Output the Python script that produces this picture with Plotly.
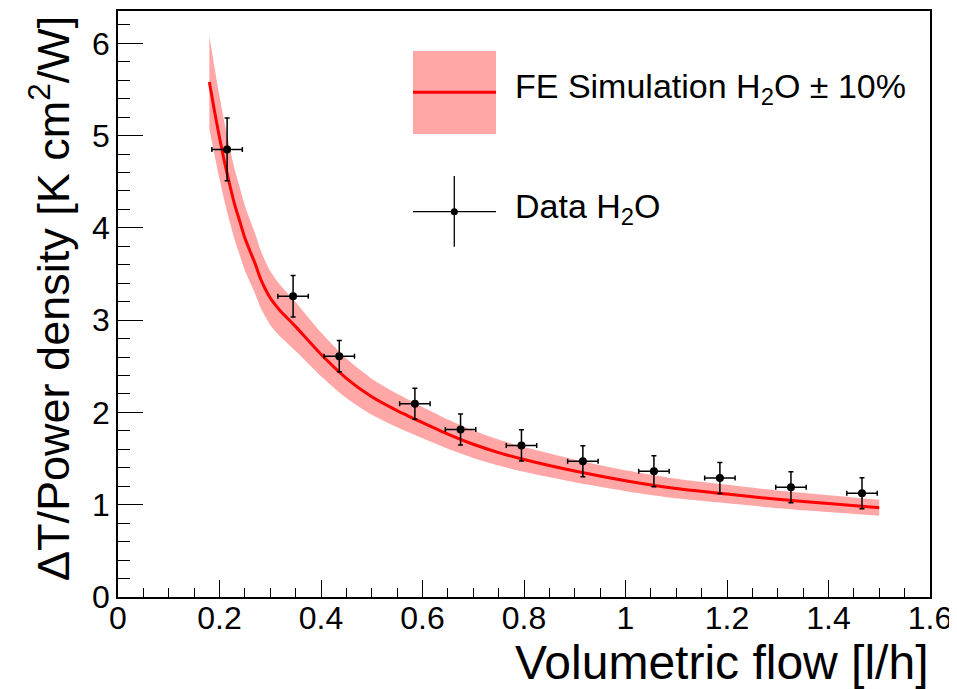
import plotly.graph_objects as go

# ---- data ----
sim_x = [0.18, 0.19, 0.20, 0.21, 0.22, 0.23, 0.24, 0.25, 0.26, 0.27, 0.28, 0.29, 0.30,
         0.31, 0.32, 0.35, 0.40, 0.45, 0.50, 0.55, 0.60, 0.65, 0.70, 0.75, 0.80, 0.90,
         1.00, 1.10, 1.20, 1.30, 1.40, 1.50]
sim_y = [5.58, 5.27, 4.98, 4.71, 4.47, 4.25, 4.07, 3.89, 3.75, 3.615, 3.46, 3.34, 3.24,
         3.165, 3.10, 2.93, 2.63, 2.37, 2.17, 2.02, 1.89, 1.765, 1.655, 1.565, 1.49, 1.365,
         1.26, 1.175, 1.115, 1.058, 1.012, 0.967]
band_frac = 0.09  # visible half-width of the simulation band (relative)

data_x = [0.215, 0.345, 0.436, 0.585, 0.675, 0.795, 0.916, 1.056, 1.186, 1.326, 1.466]
data_y = [4.85, 3.26, 2.61, 2.095, 1.816, 1.643, 1.47, 1.362, 1.289, 1.19, 1.123]
data_xerr = [0.03, 0.03, 0.03, 0.03, 0.03, 0.03, 0.03, 0.03, 0.03, 0.03, 0.03]
data_yerr = [0.34, 0.225, 0.17, 0.168, 0.168, 0.168, 0.168, 0.168, 0.168, 0.168, 0.168]

x_range = [0, 1.6]
y_range = [0, 6.35]

FONT = "Liberation Sans, Arial, Helvetica, sans-serif"
BAND = "#ffa6a6"
RED = "#ff0000"

band_hi = [v * (1 + band_frac) for v in sim_y]
band_lo = [v * (1 - band_frac) for v in sim_y]

fig = go.Figure()
fig.add_trace(go.Scatter(x=sim_x, y=band_hi, mode="lines",
                         line=dict(width=0, color=BAND, shape="spline", smoothing=0.6),
                         showlegend=False, hoverinfo="skip"))
fig.add_trace(go.Scatter(x=sim_x, y=band_lo, mode="lines",
                         line=dict(width=0, color=BAND, shape="spline", smoothing=0.6),
                         fill="tonexty", fillcolor=BAND, showlegend=False, hoverinfo="skip"))
fig.add_trace(go.Scatter(x=sim_x, y=sim_y, mode="lines",
                         line=dict(width=3, color=RED, shape="spline", smoothing=0.6),
                         showlegend=False, name="FE Simulation"))
fig.add_trace(go.Scatter(
    x=data_x, y=data_y, mode="markers",
    marker=dict(size=8, color="black"),
    error_x=dict(type="data", array=data_xerr, color="black", thickness=1.5, width=2.5),
    error_y=dict(type="data", array=data_yerr, color="black", thickness=1.5, width=2.5),
    showlegend=False, name="Data"))

# target geometry in screenshot pixels; the page body adds an 8px offset
OFF = 8
PL, PR, PT, PB = 118, 930, 11, 597   # plot area edges in the screenshot
W, H = 957 - OFF, 689 - OFF
L, T = PL - OFF, PT - OFF
pw, ph = PR - PL, PB - PT
R = W - L - pw
B = H - T - ph


def px(xp):
    return (xp - PL) / pw


def py(yp):
    return (PB - yp) / ph


axis_common = dict(showgrid=False, zeroline=False, showline=True, linecolor="black",
                   linewidth=1.5, mirror=True, ticks="inside", tickcolor="black",
                   tickwidth=1, tickfont=dict(family=FONT, size=32, color="black"))

fig.update_xaxes(range=x_range, dtick=0.2, tick0=0, ticklen=17, ticklabelstandoff=-8,
                 minor=dict(ticks="inside", dtick=0.05, ticklen=9, tickcolor="black", tickwidth=1),
                 **axis_common)
fig.update_yaxes(range=y_range, dtick=1, tick0=0, ticklen=25,
                 minor=dict(ticks="inside", dtick=0.2, ticklen=12, tickcolor="black", tickwidth=1),
                 **axis_common)

shapes = [
    dict(type="rect", xref="paper", yref="paper", x0=px(413), x1=px(496), y0=py(134), y1=py(51),
         fillcolor=BAND, line=dict(width=0), layer="above"),
    dict(type="line", xref="paper", yref="paper", x0=px(413), x1=px(496), y0=py(92.3), y1=py(92.3),
         line=dict(color=RED, width=3)),
    dict(type="line", xref="paper", yref="paper", x0=px(413), x1=px(496), y0=py(211.7), y1=py(211.7),
         line=dict(color="black", width=1.3)),
    dict(type="line", xref="paper", yref="paper", x0=px(454.3), x1=px(454.3), y0=py(246.7), y1=py(176),
         line=dict(color="black", width=1.3)),
    dict(type="circle", xref="paper", yref="paper", xsizemode="pixel", ysizemode="pixel",
         xanchor=px(454.3), yanchor=py(211.7), x0=-3.5, x1=3.5, y0=-3.5, y1=3.5,
         fillcolor="black", line=dict(width=0)),
]

annotations = [
    dict(text="FE Simulation H<sub>2</sub>O \u00b1 10%", xref="paper", yref="paper",
         x=px(513), y=py(89), xanchor="left", yanchor="middle", showarrow=False,
         font=dict(family=FONT, size=34, color="black")),
    dict(text="Data H<sub>2</sub>O", xref="paper", yref="paper",
         x=px(513), y=py(208.7), xanchor="left", yanchor="middle", showarrow=False,
         font=dict(family=FONT, size=34, color="black")),
    dict(text="Volumetric flow [l/h]", xref="paper", yref="paper",
         x=1, y=py(663), xanchor="right", yanchor="middle", showarrow=False,
         font=dict(family=FONT, size=48, color="black")),
    dict(text="\u0394T/Power density [K cm<sup>2</sup>/W]", xref="paper", yref="paper",
         x=px(50), y=py(299), xanchor="center", yanchor="middle", textangle=-90,
         showarrow=False, font=dict(family=FONT, size=45, color="black")),
]

fig.update_layout(width=W, height=H, margin=dict(l=L, r=R, t=T, b=B, autoexpand=False),
                  plot_bgcolor="white", paper_bgcolor="white",
                  shapes=shapes, annotations=annotations, showlegend=False)

fig.write_html("out.html")
